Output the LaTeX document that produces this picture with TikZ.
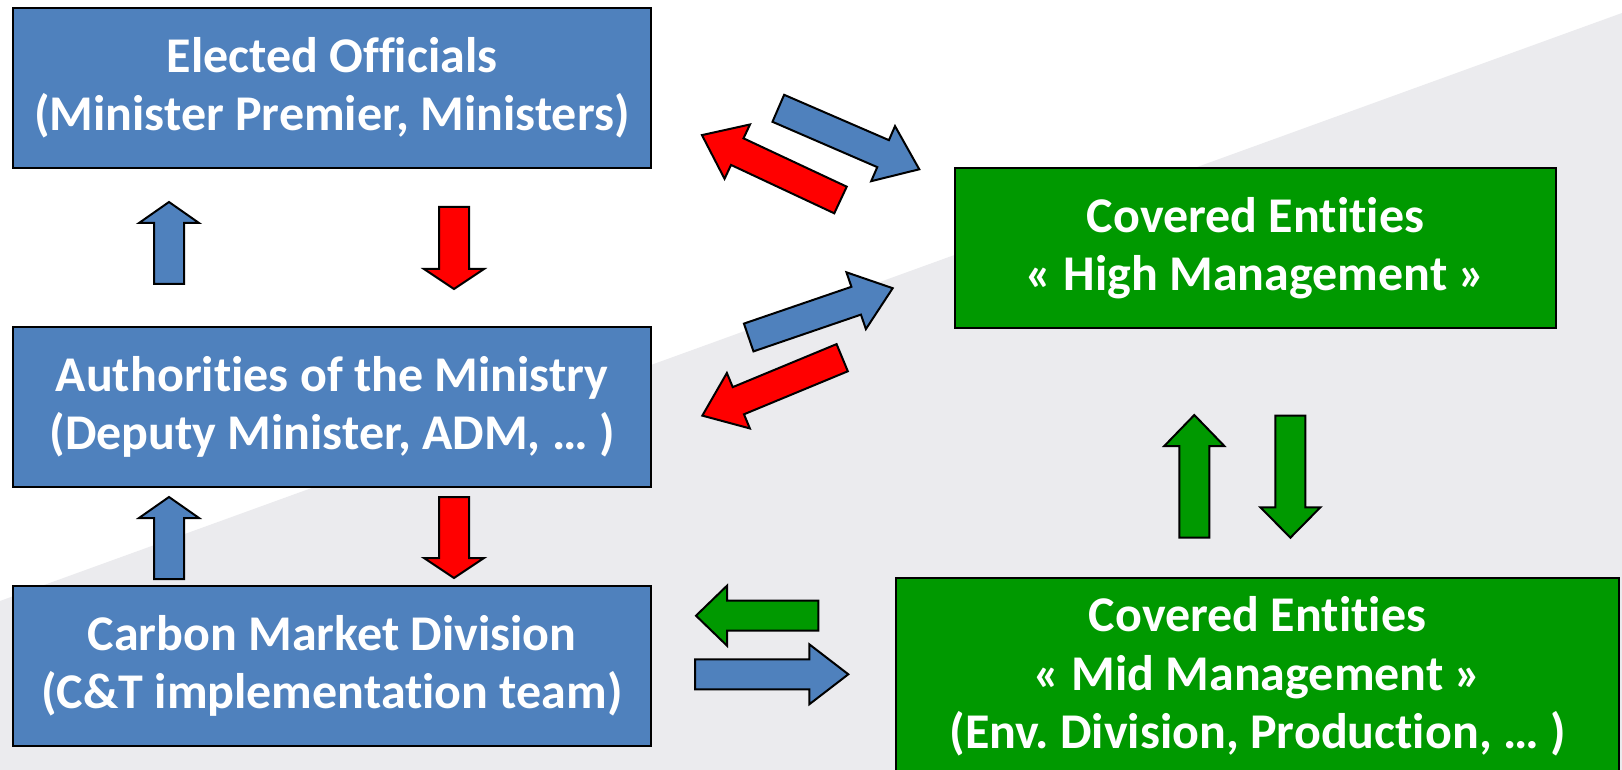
\documentclass[tikz,border=0pt]{standalone}
\usepackage{fontspec}
\setmainfont{Carlito}[Ligatures=NoCommon]
\frenchspacing
\definecolor{boxblue}{RGB}{79,129,189}
\definecolor{boxgreen}{RGB}{0,153,0}
\definecolor{arrred}{RGB}{255,0,0}
\definecolor{bggray}{RGB}{235,235,238}
\tikzset{
  box/.style={draw=black, line width=1.2pt, text=white, align=center,
    font=\bfseries\fontsize{25}{29.2}\selectfont, inner sep=0pt},
  bluebox/.style={box, fill=boxblue},
  greenbox/.style={box, fill=boxgreen},
  arrline/.style={draw=black, line width=1pt, line join=miter},
}
\newcommand\barrow[8]{%
  \begin{scope}[shift={(#1,#2)}, rotate=#3]
    \path[arrline, fill=#8] (0,-#6) -- ({#4-#5},-#6) -- ({#4-#5},-#7) -- (#4,0)
      -- ({#4-#5},#7) -- ({#4-#5},#6) -- (0,#6) -- cycle;
  \end{scope}}
\begin{document}
\begin{tikzpicture}[x=0.5pt, y=-0.5pt]
  \useasboundingbox (0,0) rectangle (1622,770);
  \clip (0,0) rectangle (1622,770);
  \fill[white] (0,0) rectangle (1622,770);
  \fill[bggray] (0,601) -- (1622,13) -- (1622,770) -- (0,770) -- cycle;

  % boxes
  \node[bluebox, minimum width=319pt, minimum height=80pt] (eo) at (332,88)
    {Elected Officials\\(Minister Premier, Ministers)};
  \node[bluebox, minimum width=319pt, minimum height=80pt] (am) at (332,407)
    {Authorities of the Ministry\\(Deputy Minister, ADM, … )};
  \node[bluebox, minimum width=319pt, minimum height=80pt] (cm) at (332,666)
    {Carbon Market Division\\(C\&T implementation team)};
  \node[greenbox, minimum width=300.5pt, minimum height=80pt] (hm) at (1255.5,248)
    {Covered Entities\\« High Management »};
  \node[greenbox, minimum width=361.5pt, minimum height=98.5pt] (mm) at (1257.5,676.5)
    {Covered Entities\\« Mid Management »\\(Env.\ Division, Production, … )};

  % vertical arrows, left column
  \barrow{169}{284}{90}{82}{21}{15}{30}{boxblue}
  \barrow{454}{207}{-90}{82}{20}{15}{30}{arrred}
  \barrow{169}{579}{90}{82}{21}{15}{30}{boxblue}
  \barrow{454}{497}{-90}{81}{20}{15}{30}{arrred}

  % diagonal arrows
  \barrow{840.5}{200}{154.9}{153}{39}{14.7}{30}{arrred}
  \barrow{778.3}{108.3}{-23.4}{153.6}{39.4}{14.7}{30}{boxblue}
  \barrow{748.7}{337.5}{18.9}{152.2}{38.6}{14.7}{30}{boxblue}
  \barrow{842.2}{357.7}{-157.5}{151.4}{39}{14.7}{30}{arrred}

  % green vertical arrows
  \barrow{1194.3}{537.7}{90}{122.7}{31}{15}{30}{boxgreen}
  \barrow{1290.4}{415.7}{-90}{122}{30.4}{15}{30}{boxgreen}

  % horizontal arrows
  \barrow{818.3}{615.7}{180}{122.3}{31}{15}{30}{boxgreen}
  \barrow{695}{674.3}{0}{153.3}{39}{15}{30}{boxblue}
\end{tikzpicture}
\end{document}
